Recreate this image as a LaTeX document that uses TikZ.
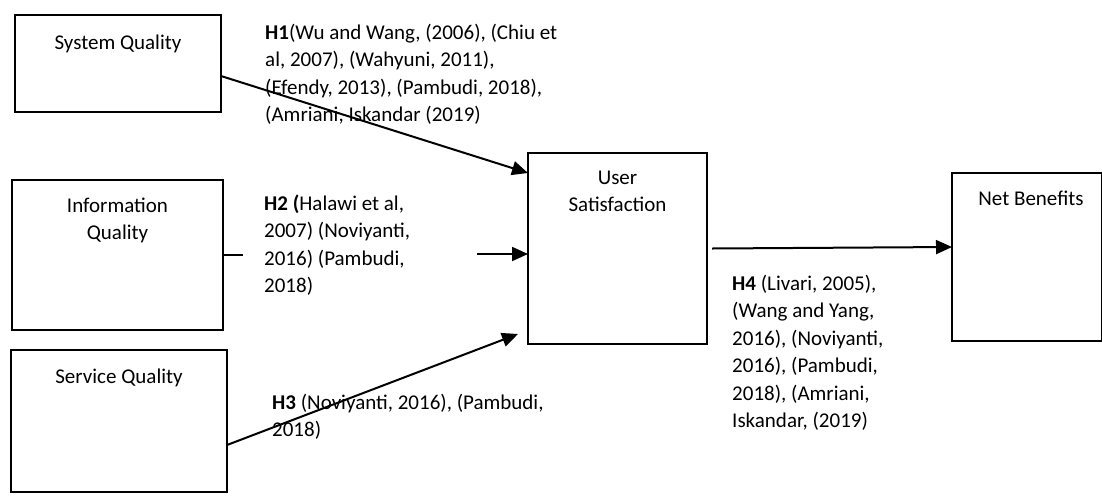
\documentclass[tikz,border=0pt]{standalone}
\usepackage{fontspec}
\setmainfont{Carlito}
\usetikzlibrary{arrows.meta,calc}
\begin{document}
\begin{tikzpicture}[x=1pt,y=-1pt,
  box/.style={draw=black,line width=2pt,inner sep=0pt,outer sep=0pt},
  lbl/.style={inner sep=0pt,font=\fontsize{21}{27.5}\selectfont,align=center},
  ref/.style={inner sep=0pt,font=\fontsize{21}{27.5}\selectfont,align=left,anchor=north west},
  conn/.style={line width=2pt},
  arr/.style={line width=2pt,-{Triangle[length=16pt,width=14pt]}}]
\useasboundingbox (0,0) rectangle (1102,496);
% boxes
\node[box,minimum width=206pt,minimum height=97pt]  (sys)  at (118,63.5) {};
\node[box,minimum width=211pt,minimum height=150pt] (info) at (117.5,255) {};
\node[box,minimum width=216pt,minimum height=142pt] (serv) at (119,421) {};
\node[box,minimum width=179pt,minimum height=191pt] (usr)  at (617.5,248.5) {};
\node[box,minimum width=150pt,minimum height=168pt] (net)  at (1027,257) {};
% box labels
\node[lbl,anchor=base]  (sysT)  at ([yshift=-34pt]sys.north) {System Quality};
\node[lbl,anchor=north] (infoT) at ([yshift=-13pt]info.north) {\strut Information\\Quality};
\node[lbl,anchor=base]  (servT) at ([yshift=-33pt]serv.north) {Service Quality};
\node[lbl,anchor=north] (usrT)  at ([yshift=-12pt]usr.north) {\strut User\\Satisfaction};
\node[lbl,anchor=base]  (netT)  at ([xshift=4pt,yshift=-32pt]net.north) {Net Benefits};
% connectors
\coordinate (h1s) at ([yshift=-12.5pt]sys.east);
\coordinate (h1e) at ([yshift=-20pt]usr.north west);
\draw[arr] (h1s) -- (h1e);
\coordinate (h2a) at (243,255);
\coordinate (h2b) at (477,254);
\draw[conn] (info.east) -- (h2a);
\draw[arr] (h2b) -- ([yshift=-5.5pt]usr.west);
\coordinate (h3s) at ([yshift=-24pt]serv.east);
\coordinate (h3e) at (518,334);
\draw[arr] (h3s) -- (h3e);
\draw[arr] ([xshift=5pt]usr.east) -- ([yshift=10pt]net.west);
% reference labels
\node[ref] (h1) at (265,20) {\strut\textbf{H1}(Wu and Wang, (2006), (Chiu et\\al, 2007), (Wahyuni, 2011),\\(Efendy, 2013), (Pambudi, 2018),\\(Amriani, Iskandar (2019)};
\node[ref] (h2) at (264,191) {\strut\textbf{H2 (}Halawi et al,\\2007) (Noviyanti,\\2016) (Pambudi,\\2018)};
\node[ref] (h3) at (272,390) {\strut\textbf{H3} (Noviyanti, 2016), (Pambudi,\\2018)};
\node[ref] (h4) at (732,271) {\strut\textbf{H4} (Livari, 2005),\\(Wang and Yang,\\2016), (Noviyanti,\\2016), (Pambudi,\\2018), (Amriani,\\Iskandar, (2019)};
\end{tikzpicture}
\end{document}
